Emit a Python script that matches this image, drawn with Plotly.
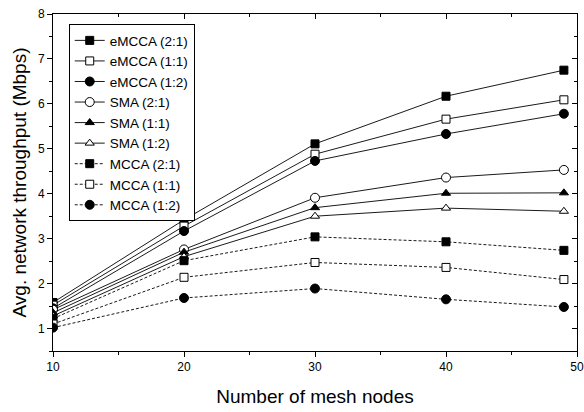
import plotly.graph_objects as go

nodes = [10, 20, 30, 40, 49]

emcca_21 = [1.58, 3.42, 5.11, 6.17, 6.75]
emcca_11 = [1.52, 3.28, 4.88, 5.66, 6.09]
emcca_12 = [1.45, 3.17, 4.73, 5.33, 5.78]
sma_21 = [1.42, 2.76, 3.91, 4.36, 4.53]
sma_11 = [1.35, 2.70, 3.69, 4.01, 4.02]
sma_12 = [1.28, 2.60, 3.50, 3.68, 3.61]
mcca_21 = [1.22, 2.51, 3.04, 2.93, 2.74]
mcca_11 = [1.10, 2.14, 2.47, 2.36, 2.09]
mcca_12 = [1.02, 1.68, 1.89, 1.65, 1.48]

series = [
    ("eMCCA (2:1)", emcca_21, "square", True, "solid"),
    ("eMCCA (1:1)", emcca_11, "square", False, "solid"),
    ("eMCCA (1:2)", emcca_12, "circle", True, "solid"),
    ("SMA (2:1)", sma_21, "circle", False, "solid"),
    ("SMA (1:1)", sma_11, "triangle-up", True, "solid"),
    ("SMA (1:2)", sma_12, "triangle-up", False, "solid"),
    ("MCCA (2:1)", mcca_21, "square", True, "3px,2px"),
    ("MCCA (1:1)", mcca_11, "square", False, "3px,2px"),
    ("MCCA (1:2)", mcca_12, "circle", True, "3px,2px"),
]

font = "Arial, Liberation Sans, sans-serif"
fig = go.Figure()
for name, vals, sym, filled, dash in series:
    fig.add_trace(go.Scatter(
        x=nodes, y=vals, name=name, mode="lines+markers",
        line=dict(color="black", width=0.9, dash=dash),
        marker=dict(symbol=sym, size=9 if sym == "circle" else 8,
                    color="black" if filled else "white",
                    line=dict(color="black", width=1)),
    ))

# overlay axes for inward ticks on top and right
fig.add_trace(go.Scatter(x=[], y=[], xaxis="x2", yaxis="y2", showlegend=False, hoverinfo="skip"))

fig.update_layout(
    width=584, height=412,
    margin=dict(l=53, r=7, t=14, b=61),
    paper_bgcolor="white", plot_bgcolor="white",
    font=dict(family=font, color="black", size=12),
    showlegend=True,
    legend=dict(x=0.03, y=0.97, xanchor="left", yanchor="top",
                bordercolor="black", borderwidth=1, bgcolor="white",
                font=dict(size=13.5, family=font), tracegroupgap=0,
                itemwidth=30),
    xaxis=dict(range=[10, 50], tickvals=[10, 20, 30, 40, 50], ticks="outside",
               ticklen=5, tickcolor="black", showline=True, linecolor="black",
               linewidth=1, showgrid=False, zeroline=False, automargin=False,
               ticklabeloverflow="allow",
               minor=dict(dtick=5, ticks="outside", ticklen=3, tickcolor="black"),
               title=dict(text="Number of mesh nodes", font=dict(size=19), standoff=16),
               tickfont=dict(size=12)),
    yaxis=dict(range=[0.5, 8], tickvals=[1, 2, 3, 4, 5, 6, 7, 8], ticks="outside",
               ticklen=5, tickcolor="black", showline=True, linecolor="black",
               linewidth=1, showgrid=False, zeroline=False, automargin=False,
               minor=dict(dtick=0.5, ticks="outside", ticklen=3, tickcolor="black"),
               title=dict(text="Avg. network throughput (Mbps)", font=dict(size=19), standoff=6),
               tickfont=dict(size=12)),
    xaxis2=dict(range=[10, 50], overlaying="x", side="top", tickvals=[10, 20, 30, 40, 50],
                ticks="inside", ticklen=5, tickcolor="black", showticklabels=False,
                showline=True, linecolor="black", showgrid=False, zeroline=False,
                automargin=False,
                minor=dict(dtick=5, ticks="inside", ticklen=3, tickcolor="black")),
    yaxis2=dict(range=[0.5, 8], overlaying="y", side="right", tickvals=[1, 2, 3, 4, 5, 6, 7, 8],
                ticks="inside", ticklen=5, tickcolor="black", showticklabels=False,
                showline=True, linecolor="black", showgrid=False, zeroline=False,
                automargin=False,
                minor=dict(dtick=0.5, ticks="inside", ticklen=3, tickcolor="black")),
)

fig.write_html("out.html", config={"displayModeBar": False},
               post_script="document.body.style.margin='0px';")
